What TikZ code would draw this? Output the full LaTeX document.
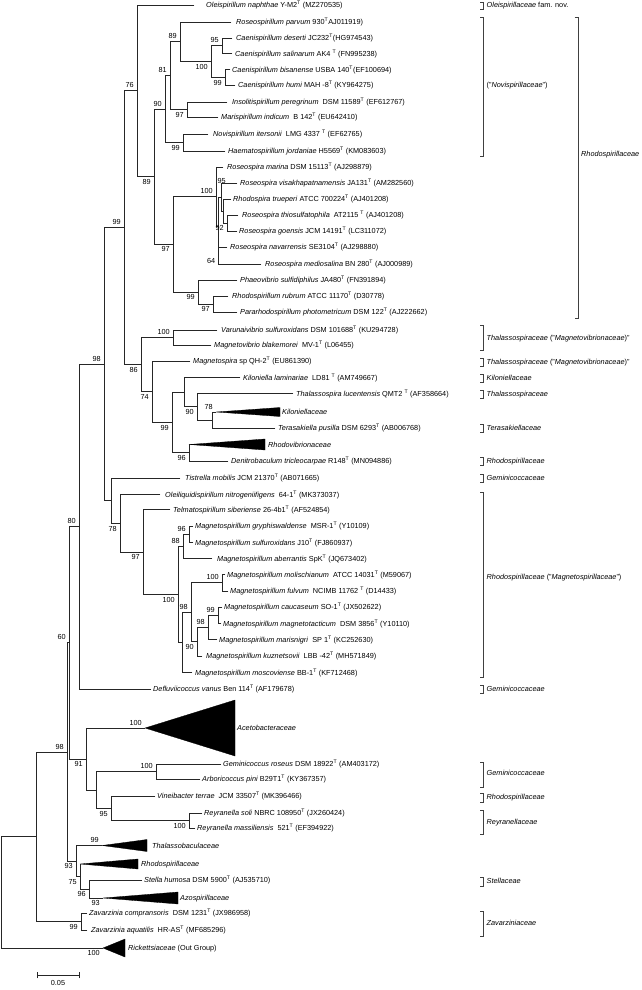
\documentclass[tikz,border=0pt]{standalone}
\usepackage{fontspec}
\setmainfont{Liberation Sans}
\newcommand\lbl{\fontsize{7.3}{8.5}\selectfont}
\tikzset{
  br/.style={line width=0.8pt, draw=black!85, line cap=rect},
  lab/.style={anchor=base west, inner sep=0pt, font=\lbl, yshift=-2.6pt},
  bs/.style={inner sep=0pt, font=\lbl},
  brk/.style={line width=0.9pt, draw=black!75},
  trifill/.style={fill=black, draw=black, line width=0.3pt}
}
\newcommand\lf[5]{\coordinate (#1) at (#2,#3); \node[lab] (t#1) at (#4,#3) {#5};}
\newcommand\tri[7]{\coordinate (#1) at (#2,#3); \filldraw[trifill] (#1) -- (#4,{#3-#5}) -- (#4,{#3+#5}) -- cycle; \node[lab] (t#1) at (#6,#3) {#7};}
\newcommand\bsA[2]{\node[bs,anchor=south east] (b#1) at ([xshift=-3pt,yshift=2.6pt]#1) {#2};}
\newcommand\bsB[2]{\node[bs,anchor=north east] (b#1) at ([xshift=-3pt,yshift=-2.6pt]#1) {#2};}
\newcommand\brk[6]{\draw[brk] ({#2-3.5},#3) -- (#2,#3) -- (#2,#4) -- ({#2-3.5},#4); \node[lab] (#1) at ({#2+3},#5) {#6};}
\newcommand\T{\textsuperscript{T}}
\begin{document}
\begin{tikzpicture}[x=1pt,y=-1pt]
\useasboundingbox (0,0) rectangle (642,990);
% ---------- internal nodes ----------
\coordinate (n95c) at (222,45.75);
\coordinate (n99c) at (225,77.25);
\coordinate (n100c) at (211,61.5);
\coordinate (n89a) at (180,41.75);
\coordinate (n97i) at (187,109.5);
\coordinate (n81) at (170,75.6);
\coordinate (n99h) at (183,142.5);
\coordinate (n90a) at (165,109);
\coordinate (n92) at (227,223);
\coordinate (ntp) at (223,211);
\coordinate (n95r) at (221,197);
\coordinate (n64) at (218.5,255.5);
\coordinate (na) at (218,226);
\coordinate (n100r) at (216,196.5);
\coordinate (n97q) at (213,304);
\coordinate (n99p) at (198,292);
\coordinate (n97b) at (173,244);
\coordinate (n89b) at (154,176.5);
\coordinate (n76) at (137,90.75);
\coordinate (n100v) at (173,337.5);
\coordinate (nter) at (212,420);
\coordinate (n90k) at (197,406.75);
\coordinate (nkt) at (184,392);
\coordinate (n96d) at (189,452.75);
\coordinate (n99k) at (172,422.4);
\coordinate (n74) at (152,391.7);
\coordinate (n86) at (141,364.6);
\coordinate (n99a) at (124,227.7);
\coordinate (n96g) at (189,534.25);
\coordinate (n88) at (183,546.4);
\coordinate (n100mf) at (222,582.75);
\coordinate (n99cm) at (218,615.25);
\coordinate (n98c) at (208,627.4);
\coordinate (n90) at (197,641.7);
\coordinate (n98) at (191,612.2);
\coordinate (nq) at (182,642.4);
\coordinate (n100m) at (178,594.4);
\coordinate (n97m) at (143,552);
\coordinate (n78m) at (120,523.2);
\coordinate (nT) at (111,500.6);
\coordinate (nx98) at (104,364.2);
\coordinate (n80) at (79,526.6);
\coordinate (n100g) at (156,771.5);
\coordinate (n100rey) at (189,820.5);
\coordinate (n95v) at (111,808.25);
\coordinate (nu) at (96,789.9);
\coordinate (n91) at (86,759);
\coordinate (n60) at (69,642.8);
\coordinate (n96s) at (89,889);
\coordinate (n75) at (80,876.5);
\coordinate (n93) at (76,861);
\coordinate (n98b) at (67,751.9);
\coordinate (n99z) at (81,921.5);
\coordinate (n98r) at (36,836.7);
\coordinate (root) at (1.5,892.3);
% ---------- leaves ----------
\lf{l1}{194}{5}{206}{\textit{Oleispirillum naphthae} Y-M2\T\ (MZ270535)}
\lf{l2}{231}{22}{236}{\textit{Roseospirillum parvum} 930\T AJ011919)}
\lf{l3}{232}{38}{236}{\textit{Caenispirillum deserti} JC232\T(HG974543)}
\lf{l4}{232}{53.5}{235}{\textit{Caenispirillum salinarum} AK4 \T\ (FN995238)}
\lf{l5}{230}{69.5}{232}{\textit{Caenispirillum bisanense} USBA 140\T(EF100694)}
\lf{l6}{235}{85}{238}{\textit{Caenispirillum humi} MAH -8\T\ (KY964275)}
\lf{l7}{227}{102}{232}{\textit{Insolitispirillum peregrinum}\ \ DSM 11589\T\ (EF612767)}
\lf{l8}{218}{117}{221}{\textit{Marispirillum indicum}\ \ B 142\T\ (EU642410)}
\lf{l9}{208}{134}{213}{\textit{Novispirillum itersonii}\ \ LMG 4337 \T\ (EF62765)}
\lf{l10}{225}{151}{228}{\textit{Haematospirillum jordaniae} H5569\T\ (KM083603)}
\lf{l11}{223}{167}{227}{\textit{Roseospira marina} DSM 15113\T\ (AJ298879)}
\lf{l12}{237}{183}{240}{\textit{Roseospira visakhapatnamensis} JA131\T\ (AM282560)}
\lf{l13}{231}{199}{233}{\textit{Rhodospira trueperi} ATCC 700224\T\ (AJ401208)}
\lf{l14}{238}{215}{242}{\textit{Roseospira thiosulfatophila}\ \ AT2115 \T\ (AJ401208)}
\lf{l15}{237}{231}{239}{\textit{Roseospira goensis} JCM 14191\T\ (LC311072)}
\lf{l16}{227}{247}{230}{\textit{Roseospira navarrensis} SE3104\T\ (AJ298880)}
\lf{l17}{261}{264}{265}{\textit{Roseospira mediosalina} BN 280\T\ (AJ000989)}
\lf{l18}{237}{280}{240}{\textit{Phaeovibrio sulfidiphilus} JA480\T\ (FN391894)}
\lf{l19}{228}{296}{232}{\textit{Rhodospirillum rubrum} ATCC 11170\T\ (D30778)}
\lf{l20}{237}{312}{240}{\textit{Pararhodospirillum photometricum} DSM 122\T\ (AJ222662)}
\lf{l21}{217}{330}{221}{\textit{Varunaivibrio sulfuroxidans} DSM 101688\T\ (KU294728)}
\lf{l22}{211}{345}{214}{\textit{Magnetovibrio blakemorei}\ \ MV-1\T\ (L06455)}
\lf{l23}{190}{361}{193}{\textit{Magnetospira} sp QH-2\T\ (EU861390)}
\lf{l24}{240}{377.5}{243}{\textit{Kiloniella laminariae}\ \ LD81 \T\ (AM749667)}
\lf{l25}{293}{393.5}{296}{\textit{Thalassospira lucentensis} QMT2 \T\ (AF358664)}
\tri{a26}{216}{412}{280}{4.5}{282}{\textit{Kiloniellaceae}}
\lf{l27}{275}{428}{278}{\textit{Terasakiella pusilla} DSM 6293\T\ (AB006768)}
\tri{a28}{189}{444.5}{265}{5.5}{268}{\textit{Rhodovibrionaceae}}
\lf{l29}{228}{461}{231}{\textit{Denitrobaculum tricleocarpae} R148\T\ (MN094886)}
\lf{l30}{180}{478}{185}{\textit{Tistrella mobilis} JCM 21370\T\ (AB071665)}
\lf{l31}{160}{494.5}{165}{\textit{Oleiliquidispirillum nitrogeniifigens}\ \ 64-1\T\ (MK373037)}
\lf{l32}{170}{509.5}{173}{\textit{Telmatospirillum siberiense} 26-4b1\T\ (AF524854)}
\lf{l33}{193}{526}{195}{\textit{Magnetospirillum gryphiswaldense}\ \ MSR-1\T\ (Y10109)}
\lf{l34}{193}{542.5}{195}{\textit{Magnetospirillum sulfuroxidans} J10\T\ (FJ860937)}
\lf{l35}{212}{558.5}{217}{\textit{Magnetospirillum aberrantis} SpK\T\ (JQ673402)}
\lf{l36}{225}{574.5}{227}{\textit{Magnetospirillum molischianum}\ \ ATCC 14031\T\ (M59067)}
\lf{l37}{228}{591}{230}{\textit{Magnetospirillum fulvum}\ \ NCIMB 11762 \T\ (D14433)}
\lf{l38}{222}{607}{224}{\textit{Magnetospirillum caucaseum} SO-1\T\ (JX502622)}
\lf{l39}{221}{623.5}{223}{\textit{Magnetospirillum magnetotacticum}\ \ DSM 3856\T\ (Y10110)}
\lf{l40}{217}{639.5}{219}{\textit{Magnetospirillum marisnigri}\ \ SP 1\T\ (KC252630)}
\lf{l41}{202}{656}{206}{\textit{Magnetospirillum kuznetsovii}\ \ LBB -42\T\ (MH571849)}
\lf{l42}{192}{672.5}{195}{\textit{Magnetospirillum moscoviense} BB-1\T\ (KF712468)}
\lf{l43}{151}{689}{153}{\textit{Defluviicoccus vanus} Ben 114\T\ (AF179678)}
\tri{a44}{145}{728}{235}{28}{237}{\textit{Acetobacteraceae}}
\lf{l45}{221}{764}{223}{\textit{Geminicoccus roseus} DSM 18922\T\ (AM403172)}
\lf{l46}{200}{779}{202}{\textit{Arboricoccus pini} B29T1\T\ (KY367357)}
\lf{l47}{155}{796}{157}{\textit{Vineibacter terrae}\ \ JCM 33507\T\ (MK396466)}
\lf{l48}{202}{813}{204}{\textit{Reyranella soli} NBRC 108950\T\ (JX260424)}
\lf{l49}{195}{828}{197}{\textit{Reyranella massiliensis}\ \ 521\T\ (EF394922)}
\tri{a50}{102}{845.5}{147}{6}{152}{\textit{Thalassobaculaceae}}
\tri{a51}{80}{864}{138}{5}{141}{\textit{Rhodospirillaceae}}
\lf{l52}{142}{880}{144}{\textit{Stella humosa} DSM 5900\T\ (AJ535710)}
\tri{a53}{103}{898}{178}{6}{180}{\textit{Azospirillaceae}}
\lf{l54}{87}{913}{89}{\textit{Zavarzinia compransoris}\ \ DSM 1231\T\ (JX986958)}
\lf{l55}{87}{930}{91}{\textit{Zavarzinia aquatilis}\ \ HR-AS\T\ (MF685296)}
\tri{a56}{103}{948}{125}{9}{128}{\textit{Rickettsiaceae} (Out Group)}
% ---------- branches ----------
\foreach \p/\c in {n76/l1,n76/n89b,n89b/n90a,n89b/n97b,n90a/n81,n90a/n99h,
  n81/n89a,n81/n97i,n89a/l2,n89a/n100c,n100c/n95c,n100c/n99c,n95c/l3,n95c/l4,
  n99c/l5,n99c/l6,n97i/l7,n97i/l8,n99h/l9,n99h/l10,n97b/n100r,n97b/n99p,
  n100r/l11,n100r/na,na/n95r,na/n64,n95r/l12,n95r/ntp,ntp/l13,ntp/n92,n92/l14,n92/l15,
  n64/l16,n64/l17,n99p/l18,n99p/n97q,n97q/l19,n97q/l20,n99a/n76,n99a/n86,
  n86/n100v,n86/n74,n100v/l21,n100v/l22,n74/l23,n74/n99k,n99k/nkt,n99k/n96d,
  nkt/l24,nkt/n90k,n90k/l25,n90k/nter,nter/a26,nter/l27,n96d/a28,n96d/l29,
  nx98/n99a,nx98/nT,nT/l30,nT/n78m,n78m/l31,n78m/n97m,n97m/l32,n97m/n100m,
  n100m/n88,n100m/nq,n88/n96g,n88/l35,n96g/l33,n96g/l34,nq/n98,nq/l42,
  n98/n100mf,n98/n90,n100mf/l36,n100mf/l37,n90/n98c,n90/l41,n98c/n99cm,n98c/l40,
  n99cm/l38,n99cm/l39,n80/nx98,n80/l43,n60/n80,n60/n91,n91/a44,n91/nu,
  nu/n100g,nu/n95v,n100g/l45,n100g/l46,n95v/l47,n95v/n100rey,n100rey/l48,n100rey/l49,
  n98b/n60,n98b/n93,n93/a50,n93/n75,n75/a51,n75/n96s,n96s/l52,n96s/a53,
  n98r/n98b,n98r/n99z,n99z/l54,n99z/l55,root/n98r,root/a56}
  {\draw[br] (\p) |- (\c);}
% ---------- bootstrap values ----------
\bsA{n89a}{89} \bsB{n100c}{100} \bsA{n95c}{95} \bsB{n99c}{99}
\bsA{n81}{81} \bsB{n97i}{97} \bsA{n90a}{90} \bsB{n99h}{99}
\bsB{n89b}{89} \bsA{n76}{76} \bsB{n97b}{97} \bsA{n100r}{100}
\node[bs,anchor=south east] (bn95r) at (226,183.5) {95};
\bsB{n92}{92} \bsB{n64}{64} \bsB{n99p}{99} \bsB{n97q}{97}
\bsA{n100v}{100} \bsB{n86}{86} \bsB{n74}{74} \bsB{n99k}{99}
\bsB{n90k}{90} \bsB{n96d}{96} \bsA{a26}{78} \bsA{n99a}{99} \bsA{nx98}{98}
\bsB{n78m}{78} \bsB{n97m}{97} \bsB{n100m}{100} \bsA{n88}{88} \bsA{n96g}{96}
\bsA{n100mf}{100} \bsA{n98}{98} \bsA{n98c}{98} \bsA{n99cm}{99} \bsB{n90}{90}
\bsA{n80}{80} \bsA{n60}{60} \bsB{n91}{91} \bsA{a44}{100} \bsA{n100g}{100}
\bsB{n95v}{95} \bsB{n100rey}{100} \bsA{n98b}{98} \bsB{n93}{93} \bsA{a50}{99}
\bsB{n75}{75} \bsB{n96s}{96} \bsB{a53}{93} \bsB{n99z}{99} \bsB{a56}{100}
% ---------- brackets ----------
\brk{k1}{483.5}{2}{9}{5}{\textit{Oleispirillaceae} fam. nov.}
\brk{k2}{483.5}{17}{156}{85}{("\textit{Novispirillaceae}")}
\brk{k3}{578}{17}{318}{154}{\textit{Rhodospirillaceae}}
\brk{k4}{483.5}{325}{350}{338}{\textit{Thalassospiraceae} ("\textit{Magnetovibrionaceae})"}
\brk{k5}{483.5}{358.5}{366}{362}{\textit{Thalassospiraceae} ("\textit{Magnetovibrionaceae})"}
\brk{k6}{483.5}{374}{382}{378}{\textit{Kiloniellaceae}}
\brk{k7}{483.5}{390}{398}{394}{\textit{Thalassospiraceae}}
\brk{k8}{483.5}{424.5}{432}{428}{\textit{Terasakiellaceae}}
\brk{k9}{483.5}{457}{465}{461}{\textit{Rhodospirillaceae}}
\brk{k10}{483.5}{474}{482}{478}{\textit{Geminicoccaceae}}
\brk{k11}{483.5}{492}{677}{577}{\textit{Rhodospirillaceae} ("\textit{Magnetospirillaceae}")}
\brk{k12}{483.5}{685}{693}{689}{\textit{Geminicoccaceae}}
\brk{k13}{483.5}{762}{787}{773}{\textit{Geminicoccaceae}}
\brk{k14}{483.5}{793}{802}{797}{\textit{Rhodospirillaceae}}
\brk{k15}{483.5}{810}{834}{822}{\textit{Reyranellaceae}}
\brk{k16}{483.5}{877}{886}{881}{\textit{Stellaceae}}
\brk{k17}{483.5}{911}{936}{923}{\textit{Zavarziniaceae}}
% ---------- scale bar ----------
\coordinate (s1) at (37,975);
\coordinate (s2) at (79,975);
\draw[br] (s1) -- (s2);
\draw[br] ([yshift=3pt]s1) -- ([yshift=-3pt]s1);
\draw[br] ([yshift=3pt]s2) -- ([yshift=-3pt]s2);
\node[bs,anchor=north] (sl) at (58,980.5) {0.05};
\end{tikzpicture}
\end{document}
